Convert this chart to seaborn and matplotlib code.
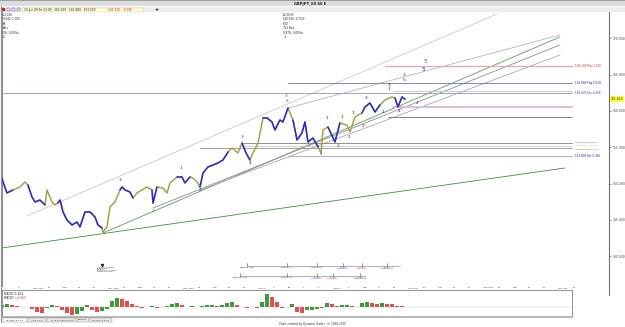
import numpy as np
import pandas as pd
import matplotlib
matplotlib.use("Agg")
import matplotlib.pyplot as plt
import matplotlib.transforms as mtransforms
from matplotlib.patches import Rectangle
from matplotlib.lines import Line2D
import seaborn as sns

sns.set_style("white")
plt.rcParams['font.family'] = ['DejaVu Sans']

# ---------------- data ----------------
# price path (trading-day index from 7 May 2009, price)
price_day = [0.0, 0.07, 0.33, 0.73, 1.2, 1.53, 1.73, 2.0, 2.2, 2.53, 2.87, 3.0, 3.33, 3.53, 3.73, 3.87,
             4.07, 4.33, 4.67, 5.0, 5.2, 5.53, 5.87, 6.2, 6.4, 6.67, 6.73, 7.0, 7.2, 7.53, 7.87, 8.0,
             8.2, 8.53, 8.73, 9.0, 9.33, 9.67, 10.0, 10.07, 10.33, 10.73, 11.0, 11.2, 11.67, 12.0,
             12.2, 12.53, 12.73, 13.07, 13.2, 13.4, 13.73, 14.07, 14.4, 14.73, 15.07, 15.33, 15.73,
             16.0, 16.27, 16.53, 16.73, 17.07, 17.4, 17.67, 18.0, 18.2, 18.53, 18.73, 19.07, 19.4,
             19.67, 20.0, 20.2, 20.4, 20.73, 21.07, 21.27, 21.4, 21.73, 22.2, 22.53, 23.0, 23.2,
             23.53, 24.0, 24.2, 24.53, 24.87, 25.2, 25.53, 26.0, 26.2, 26.4, 26.67, 26.87]
price_val = [150.77, 150.22, 148.71, 149.12, 149.53, 150.22, 149.81, 148.16, 147.47, 147.74, 147.06,
             149.12, 147.47, 147.06, 147.33, 147.74, 146.09, 144.99, 144.30, 144.71, 144.03, 146.09,
             146.09, 145.40, 144.30, 143.89, 143.34, 144.03, 146.78, 147.47, 149.12, 149.53, 149.12,
             148.85, 148.02, 148.71, 149.12, 149.53, 149.12, 147.33, 149.53, 149.40, 148.71, 150.09,
             150.91, 150.91, 150.09, 150.91, 150.77, 150.09, 149.53, 151.46, 152.29, 152.56, 152.84,
             153.25, 154.35, 154.91, 154.22, 155.59, 154.22, 153.25, 154.22, 155.59, 159.04, 159.04,
             158.49, 157.38, 158.76, 158.49, 160.41, 158.76, 156.01, 156.97, 158.49, 155.73, 156.28,
             155.04, 154.22, 157.38, 157.80, 155.73, 158.35, 158.07, 157.11, 159.17, 159.72, 160.55,
             161.10, 159.86, 160.83, 161.51, 161.93, 161.79, 160.55, 161.93, 161.62]
blue_swings = [(0.0, 0.73), (1.73, 2.87), (3.73, 6.67), (7.87, 8.73), (10.0, 10.33), (11.67, 12.53),
               (13.2, 15.07), (16.0, 16.53), (17.4, 19.07), (19.4, 21.07), (21.73, 22.53),
               (24.0, 25.2), (26.2, 26.87)]

# MACD histogram (one value every 1/3 trading day)
macd_hist = [0.10, 0.15, 0.10, 0.05, 0.025, 0.0, -0.10, -0.25, -0.30, -0.05,
             0.10, 0.05, -0.15, -0.30, -0.40, -0.35, -0.20, 0.10, -0.15, -0.25,
             -0.20, -0.10, 0.30, 0.45, 0.40, 0.30, 0.15, 0.05, -0.05, 0.025,
             0.05, -0.025, 0.025, 0.05, 0.15, 0.20, 0.10, 0.025, 0.05, 0.025,
             0.05, 0.10, 0.125, 0.05, 0.10, 0.20, 0.25, 0.10, 0.025, -0.05,
             0.025, -0.025, 0.25, 0.65, 0.50, 0.25, -0.05, 0.025, 0.15, -0.25,
             -0.30, -0.15, -0.15, -0.10, -0.05, 0.20, 0.15, 0.05, 0.10, 0.125,
             0.05, 0.025, 0.20, 0.25, 0.225, 0.15, 0.20, 0.175, 0.15, 0.075, 0.05]

y_ticks = [140, 145, 150, 155, 160, 165, 170]
last_price = 161.62

date_labels = ["7", "8", "May 11th", "12", "13w", "14", "15", "May 18th", "19", "20w", "21", "22",
               "May 25th", "26", "27w", "28", "29", "Jun 1st", "2", "3w", "4", "5", "Jun 8th", "9",
               "10w", "11", "12", "Jun 15th", "16", "17w", "18", "19", "Jun 22nd", "23", "24w", "25",
               "26", "Jun 29th", "30"]

# horizontal price levels
level_price = [166.24, 163.81, 162.80, 162.44, 160.59, 159.17, 155.64, 155.18, 154.91, 153.80]
level_start = [25.53, 19.07, 26.07, 0.0, 26.07, 25.73, 16.0, 16.0, 13.2, 19.07]
level_label = ["166.236 Proj 1.000", "163.808 Proj 0.618", "", "162.437 Ext 1.618", "", "",
               "H 155.700 (SPH) 10:00", "L 155.180 (SPL) 15:00", "H 154.940 (SPH) 13:00",
               "153.800 Ret 0.382"]
level_color = ['#e8a8a8', '#7070c0', '#d4bcdc', '#9090c8', '#dcbcdc', '#707070', '#808080',
               '#c8c8c8', '#909090', '#a0a0e0']
level_text_color = ['#d02020', '#2020b0', '#000000', '#2020b0', '#000000', '#000000', '#404040',
                    '#a0a0a0', '#404040', '#2020b0']
level_end = 38.0

# trend / channel lines (day0, price0, day1, price1)
trend_lines = [(1.67, 145.54, 33.0, 173.36), (19.07, 160.41, 37.2, 170.47),
               (6.73, 143.20, 37.2, 170.19), (10.07, 146.64, 37.2, 169.09),
               (13.2, 149.12, 37.2, 167.71), (0.0, 141.14, 37.53, 152.15)]
trend_colors = ['#c8c8c8', '#b4b4b4', '#5a9a5a', '#8c8c8c', '#a8a8a8', '#3c8c3c']

# wave labels (day, price, text, colour key)
wave_labels = [(7.87, 150.50, "3", "k"), (11.93, 152.15, "1", "b"), (10.07, 146.23, "2", "g"),
               (13.2, 149.12, "2", "b"), (16.0, 156.42, "3", "b"), (16.53, 152.84, "4", "b"),
               (18.93, 162.07, "3", "g"), (19.0, 161.38, "5", "b"), (21.27, 154.08, "4", "g"),
               (22.4, 155.18, "2", "b"), (23.13, 156.42, "2", "k"), (21.67, 159.04, "1", "k"),
               (22.67, 159.17, "1", "k"), (23.4, 159.72, "1", "k"), (24.27, 161.79, "3", "k"),
               (24.07, 157.93, "2", "k"), (25.4, 159.86, "1", "k"), (26.47, 160.0, "4", "k"),
               (25.8, 163.58, "3", "k"), (25.8, 163.03, "1", "k"), (26.8, 164.96, "3", "b"),
               (26.8, 164.27, "5", "k"), (28.2, 166.75, "5", "g"), (28.13, 165.78, "5", "b"),
               (27.67, 161.10, "4", "b")]
wave_colors = {"k": "#202020", "b": "#2828c0", "g": "#2a7a2a"}

# time projection rows
rowA_price, rowA_span = 138.66, (16.33, 26.53)
rowA_ticks = [16.33, 19.0, 21.0, 22.73, 24.0, 25.67]
rowA_labels = ["29May17:00", "2Jun00:00", "3Jun16:00", "1.618\n8Jun02:00", "1.000\n9Jun10:00",
               "1.618\n11Jun23:00"]
rowA_colors = ['#303030', '#303030', '#303030', '#2020c0', '#d02020', '#2020c0']
rowB_price, rowB_span = 137.28, (15.87, 24.2)
rowB_ticks = [15.87, 19.0, 21.0, 22.07, 23.87]
rowB_labels = ["28May10:00", "1Jun00:00", "1.618\n4Jun10:00", "1.000\n5Jun08:00", "1.618\n10Jun03:00"]
rowB_colors = ['#303030', '#303030', '#2020c0', '#d02020', '#2020c0']

low_note = "0.33%, 1.026a\n139 Bars\n16.00\n143.325, -7.025\n18May 16:00"
low_note_pos = (6.33, 138.55)
topleft_note = "L:1.000\n0.640, 1.000\n68\nBars\n0%, 0.00%a\n4"
topmid_note = "20:00:00\n160.530, 17.510\n6.00\n754 Bars\n0.87%, 0.00%a\n  4"
header_text = "13-Jun-09 Fri 23:00   161.610   161.880   161.550"
header_red = "161.620   -0.190"
tab_labels = ["MACDC 5,34,5", "ADX 14,3", "ACI 8,13 (89%) 20%", "Volume", "MACDC 5,34,5"]

OLIVE = '#a8a048'
BLUE = '#2a2ad0'

# ---------------- layout ----------------
W, H = 625, 327
fig = plt.figure(figsize=(W / 100, H / 100), dpi=100)
fig.patch.set_facecolor('white')


def rect(x0, y0, x1, y1):
    return [x0 / W, 1 - y1 / H, (x1 - x0) / W, (y1 - y0) / H]


def fy(py):
    return 1 - py / H


# title band and toolbar
fig.patches.append(Rectangle((0, fy(6)), 1, 6 / H, transform=fig.transFigure,
                             facecolor='#dcdcdc', edgecolor='none', zorder=0))
fig.patches.append(Rectangle((0, fy(1)), 1, 1 / H, transform=fig.transFigure,
                             facecolor='#a0a0a0', edgecolor='none', zorder=0))
fig.text(310 / W, fy(3.6), "GBPJPY_60 60 E", ha='center', va='center', fontsize=2.6,
         weight='bold', color='#202020')
fig.patches.append(Rectangle((0, fy(12)), 1, 5 / H, transform=fig.transFigure,
                             facecolor='#ececec', edgecolor='none', zorder=0))
fig.patches.append(Rectangle((22 / W, fy(11.5)), 121 / W, 4 / H, transform=fig.transFigure,
                             facecolor='#ffffd0', edgecolor='#c8c8a0', lw=0.3, zorder=1))
for i, c in enumerate(['#d02020', '#4040a0', '#4040a0', '#4040a0']):
    fig.patches.append(Rectangle(((2 + i * 5) / W, fy(11)), 3 / W, 3 / H, transform=fig.transFigure,
                                 facecolor=c if i == 0 else 'none', edgecolor=c, lw=0.3, zorder=1))
fig.text(24 / W, fy(9.6), header_text, ha='left', va='center', fontsize=2.1, color='#202020')
fig.text(108 / W, fy(9.6), header_red, ha='left', va='center', fontsize=2.1, color='#d02020')
fig.text(157 / W, fy(9.6), "+", ha='center', va='center', fontsize=3.5, weight='bold', color='#202020')

# main price panel
ax = fig.add_axes(rect(2, 12, 609, 286))
ax.set_facecolor('white')
ax.set_xlim(0, 40.47)
ax.set_ylim(135.9, 173.63)
for s in ['top', 'bottom']:
    ax.spines[s].set_visible(False)
ax.spines['left'].set_color('#909090')
ax.spines['left'].set_linewidth(0.8)
ax.spines['right'].set_color('#707070')
ax.spines['right'].set_linewidth(0.8)

# trend lines
for (d0, p0, d1, p1), c in zip(trend_lines, trend_colors):
    ax.plot([d0, d1], [p0, p1], color=c, lw=0.6, zorder=1)

# horizontal levels (the three close swing levels get small, nudged labels)
label_nudge = {6: 0.12, 7: 0.05, 8: -0.2}
for k, (p, d0, lab, c, tc) in enumerate(zip(level_price, level_start, level_label, level_color,
                                            level_text_color)):
    lw = 1.4 if c == '#dcbcdc' else (0.9 if c == '#e8a8a8' else 0.6)
    ax.plot([d0, level_end], [p, p], color=c, lw=lw, zorder=1)
    if lab:
        fs = 1.45 if k in label_nudge else 2.0
        ax.text(level_end + 0.2, p + label_nudge.get(k, 0.0), lab, fontsize=fs, color=tc,
                ha='left', va='center')

# price series
df = pd.DataFrame({"day": price_day, "price": price_val})
sns.lineplot(data=df, x="day", y="price", ax=ax, color=OLIVE, lw=1.1, sort=False,
             estimator=None, zorder=3)
for a, b in blue_swings:
    seg = df[(df.day >= a) & (df.day <= b)]
    sns.lineplot(data=seg, x="day", y="price", ax=ax, color=BLUE, lw=1.1, sort=False,
                 estimator=None, zorder=4)
ax.set_xlabel('')
ax.set_ylabel('')
ax.set_xticks([])

# wave labels
for d, p, t, c in wave_labels:
    big = (d > 28)
    ax.text(d, p, t, fontsize=4.2 if big else 3.2, color=wave_colors[c], ha='center', va='center',
            zorder=5)

# time projection rows
for pr, span, ticks, labels, cols in [(rowA_price, rowA_span, rowA_ticks, rowA_labels, rowA_colors),
                                      (rowB_price, rowB_span, rowB_ticks, rowB_labels, rowB_colors)]:
    ax.plot(list(span), [pr, pr], color='#909090', lw=0.5)
    for t, lab, c in zip(ticks, labels, cols):
        ax.plot([t, t], [pr, pr + 0.45], color='#404040', lw=0.4)
        ax.text(t, pr - 0.1, lab, fontsize=1.7, color=c, ha='center', va='top', linespacing=0.95)

ax.text(low_note_pos[0], low_note_pos[1], low_note, fontsize=1.7, color='#202020', ha='left',
        va='top', linespacing=0.95)
ax.plot([6.67], [138.82], marker='v', ms=1.5, color='#202020')
ax.text(0.002, 0.997, topleft_note, transform=ax.transAxes, fontsize=1.9, color='#202020',
        ha='left', va='top', linespacing=1.15)
ax.text(0.463, 0.997, topmid_note, transform=ax.transAxes, fontsize=1.9, color='#202020',
        ha='left', va='top', linespacing=1.15)

# right axis
ax.yaxis.tick_right()
ax.set_yticks(y_ticks)
ax.set_yticklabels([f"{v:.3f}" for v in y_ticks], fontsize=2.2, color='#404040')
ax.tick_params(axis='y', length=1.5, width=0.4, pad=0.8, colors='#404040')
trans = mtransforms.blended_transform_factory(ax.transAxes, ax.transData)
ax.text(1.003, last_price, f"{last_price:.3f}", transform=trans, fontsize=2.2, color='#202020',
        ha='left', va='center',
        bbox=dict(boxstyle='square,pad=0.25', facecolor='#ffff40', edgecolor='none'))
fig.add_artist(Line2D([609 / W, 609 / W], [fy(286), fy(295)], color='#707070', lw=0.8))

# date strip
axd = fig.add_axes(rect(2, 286, 572, 290))
axd.set_xlim(0, 38)
axd.set_ylim(0, 1)
for s in ['top', 'left', 'right']:
    axd.spines[s].set_visible(False)
axd.spines['bottom'].set_color('#606060')
axd.spines['bottom'].set_linewidth(0.6)
axd.set_yticks([])
axd.set_xticks(np.arange(len(date_labels)))
axd.set_xticklabels([])
axd.tick_params(axis='x', direction='in', length=1.5, width=0.4, colors='#404040')
axd.patch.set_alpha(0)
for i, lab in enumerate(date_labels):
    if i == 0:
        continue
    axd.text(i + 0.05, 0.5, lab, fontsize=1.6, color='#303030', ha='left', va='center')

# MACD panel
axm = fig.add_axes(rect(2, 290, 572, 316))
axm.set_xlim(0, 38)
axm.set_ylim(-0.45, 0.85)
for s in axm.spines.values():
    s.set_color('#808080')
    s.set_linewidth(0.6)
axm.set_xticks([])
axm.set_yticks([])
macd_day = np.arange(len(macd_hist)) / 3.0
mh = np.array(macd_hist)
rising = np.concatenate([[True], mh[1:] >= mh[:-1]])
bar_cols = np.where(rising, '#3c9a3c', '#e05050')
axm.bar(macd_day, mh, width=0.31, color=bar_cols, edgecolor='none', zorder=2)
axm.axhline(0, color='#c0c0c0', lw=0.3, zorder=1)
axm.text(0.003, 0.86, "MACDC 5,34,5", transform=axm.transAxes, fontsize=2.0, color='#202020',
         ha='left', va='center')
axm.text(0.003, 0.70, "MACDC =", transform=axm.transAxes, fontsize=2.0, color='#202020',
         ha='left', va='center')
axm.text(0.027, 0.70, f"{-0.363:.3f}", transform=axm.transAxes, fontsize=2.0, color='#d02020',
         ha='left', va='center')

# bottom tab bar and footer
fig.patches.append(Rectangle((2 / W, fy(318)), 570 / W, 2 / H, transform=fig.transFigure,
                             facecolor='#b8b8b8', edgecolor='none'))
tab_edges = [3, 28, 47, 77, 90, 113]
for i, lab in enumerate(tab_labels):
    x0, x1 = tab_edges[i], tab_edges[i + 1]
    fig.patches.append(Rectangle((x0 / W, fy(322)), (x1 - x0 - 1) / W, 4 / H,
                                 transform=fig.transFigure,
                                 facecolor='white' if i == 0 else '#ececec',
                                 edgecolor='#808080', lw=0.3))
    fig.text((x0 + x1 - 1) / 2 / W, fy(320), lab, ha='center', va='center', fontsize=1.7,
             color='#202020')
fig.text(312 / W, fy(324.5), "Chart created by Dynamic Trader  (c) 1996-2009", ha='center',
         va='center', fontsize=2.0, color='#303030')
fig.add_artist(Line2D([0.5 / W, 0.5 / W], [fy(322), fy(6)], color='#909090', lw=0.8))

fig.savefig("out.png", dpi=100)
